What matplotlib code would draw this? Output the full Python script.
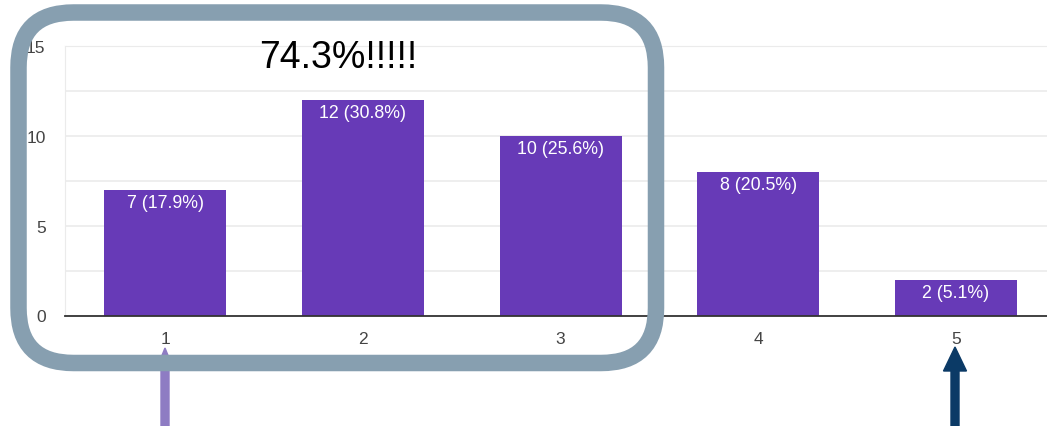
import matplotlib
matplotlib.use("Agg")
import matplotlib.pyplot as plt
from matplotlib.patches import FancyBboxPatch, FancyArrow
from matplotlib.transforms import IdentityTransform

categories = ["1", "2", "3", "4", "5"]
counts = [7, 12, 10, 8, 2]
percents = [17.9, 30.8, 25.6, 20.5, 5.1]
y_ticks = [0, 5, 10, 15]
callout = "74.3%!!!!!"

W, H = 1047, 427
plt.rcParams['font.family'] = ['Liberation Sans', 'DejaVu Sans']
fig = plt.figure(figsize=(W / 100, H / 100), dpi=100)
fig.patch.set_facecolor('white')

ax = fig.add_axes([65 / W, (H - 316.5) / H, (W - 65) / W, (316.5 - 47) / H])
x = list(range(1, len(categories) + 1))
ax.bar(x, counts, width=0.617, color='#673ab7', zorder=3)
for xi, c, p in zip(x, counts, percents):
    ax.annotate(f"{c} ({p}%)", (xi, c), xytext=(0, -13), textcoords='offset pixels',
                ha='center', va='center', color='white', fontsize=12.8, zorder=4)

ax.set_xlim(0.494, 5.46)
ax.set_ylim(0, 15)
ax.set_xticks(x)
ax.set_xticklabels(categories)
ax.set_yticks(y_ticks)
ax.set_yticks([2.5, 7.5, 12.5], minor=True)
ax.grid(True, axis='y', which='both', color='#ebebeb', linewidth=1.2, zorder=0)
ax.tick_params(axis='both', which='both', length=0, labelsize=12.5, labelcolor='#444444')
ax.tick_params(axis='x', pad=11)
ax.tick_params(axis='y', pad=14)
ax.spines['right'].set_visible(False)
ax.spines['top'].set_color('#ebebeb')
ax.spines['left'].set_color('#ebebeb')
ax.spines['bottom'].set_color('#333333')
ax.spines['bottom'].set_linewidth(1.3)
ax.spines['bottom'].set_zorder(5)

fig.text(338 / W, 1 - 58 / H, callout, ha='center', va='center', fontsize=27, color='black')

tr = IdentityTransform()
# purple arrow (under the box)
pa = FancyArrow(165, 0, 0, H - 349, width=8, head_width=13, head_length=16,
                length_includes_head=True, color='#8e7cc3', transform=tr, zorder=1)
fig.add_artist(pa)
# rounded box
box = FancyBboxPatch((18.5, H - 364), 656 - 18.5, 364 - 13.5,
                     boxstyle="round,pad=0,rounding_size=55",
                     fill=False, edgecolor='#879fb0', linewidth=16.5 * 72 / 100,
                     transform=tr, zorder=10)
fig.add_artist(box)
# dark blue arrow
ba = FancyArrow(955, 0, 0, H - 348, width=8, head_width=23, head_length=24,
                length_includes_head=True, color='#0b3a66', transform=tr, zorder=11)
fig.add_artist(ba)

fig.savefig("out.png", dpi=100)
